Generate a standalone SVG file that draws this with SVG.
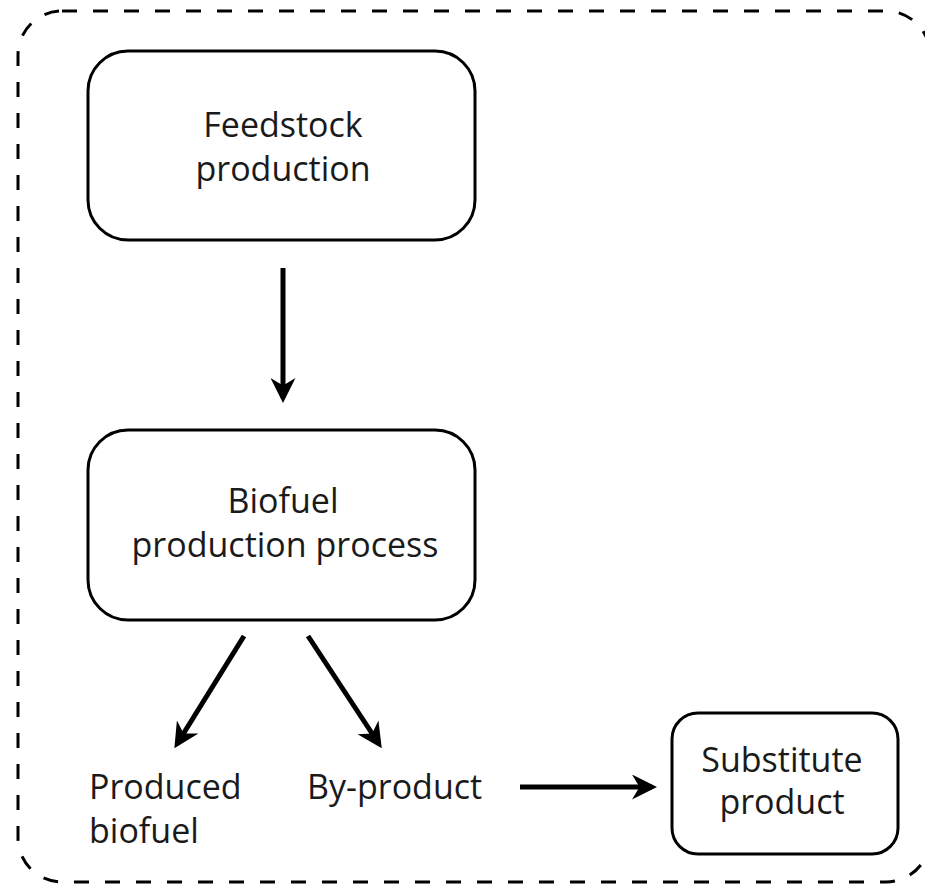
<svg xmlns="http://www.w3.org/2000/svg" width="925" height="886" viewBox="0 0 925 886">
<defs>
<style>
.box{fill:#fff;stroke:#000;stroke-width:3}
.t{font-family:"Open Sans","Noto Sans",sans-serif;font-size:34px;fill:#1a1a1a}
.c{text-anchor:middle}
.arr{stroke:#000;stroke-width:5;fill:none;marker-end:url(#ah)}
</style>
<marker id="ah" viewBox="0 0 10 10" refX="8" refY="5" markerWidth="5" markerHeight="5" orient="auto" markerUnits="strokeWidth">
<path d="M0,0 L10,5 L0,10 L3,5 Z" fill="#000"/>
</marker>
</defs>
<rect id="frame" x="18" y="11" width="912" height="871" rx="44" fill="none" stroke="#000" stroke-width="3" stroke-dasharray="15 16"/>
<g id="feedstock">
<rect class="box" x="88" y="51" width="387" height="189" rx="40"/>
<text class="t c" x="283" y="137">Feedstock</text>
<text class="t c" x="283" y="181">production</text>
</g>
<g id="biofuel-process">
<rect class="box" x="88" y="430" width="387" height="190" rx="40"/>
<text class="t c" x="283" y="513">Biofuel</text>
<text class="t c" x="285" y="557">production process</text>
</g>
<g id="produced-biofuel">
<text class="t" x="89" y="799">Produced</text>
<text class="t" x="89" y="843">biofuel</text>
</g>
<g id="by-product">
<text class="t" x="307" y="799">By-product</text>
</g>
<g id="substitute">
<rect class="box" x="672" y="713" width="226" height="141" rx="26"/>
<text class="t c" x="782" y="772">Substitute</text>
<text class="t c" x="782" y="814">product</text>
</g>
<g id="connectors">
<line class="arr" x1="283" y1="268" x2="283" y2="398"/>
<line class="arr" x1="244" y1="636" x2="177" y2="744"/>
<line class="arr" x1="308" y1="636" x2="379" y2="744"/>
<line class="arr" x1="520" y1="787" x2="652" y2="787"/>
</g>
</svg>
